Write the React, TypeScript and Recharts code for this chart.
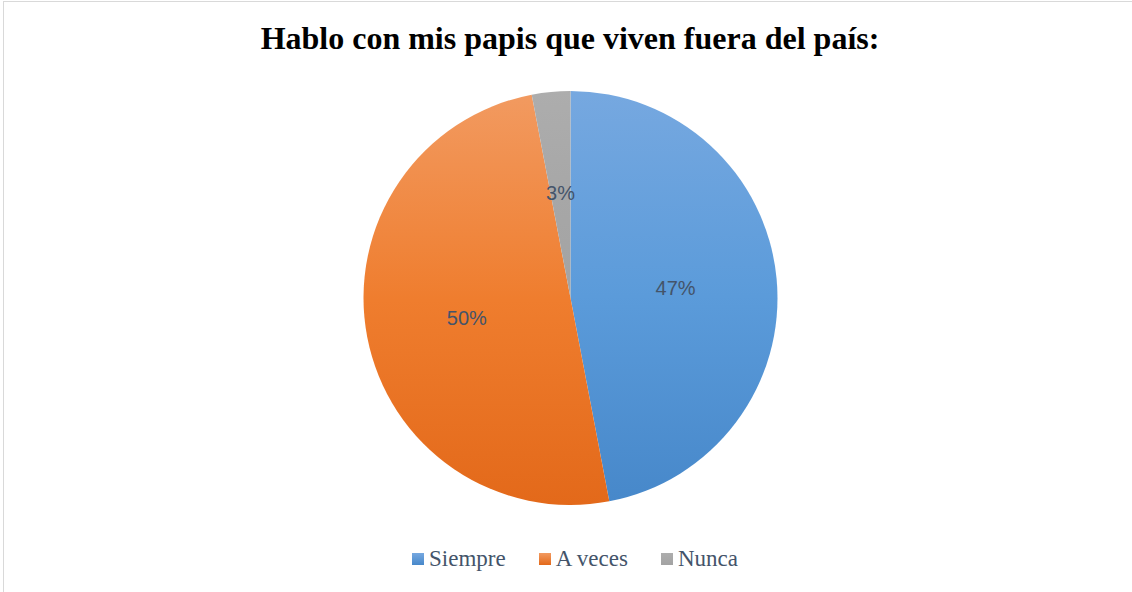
import React from 'react';
import { PieChart, Pie, Cell, Legend } from 'recharts';

const categories = ['Siempre', 'A veces', 'Nunca'];
const values = [47, 50, 3];
const labels = ['47%', '50%', '3%'];

const gradTop = ['#76A8E0', '#F29A60', '#ADADAD'];
const gradMid = ['#5B9BDA', '#EF7D2E', '#A7A7A7'];
const gradBottom = ['#4788CA', '#E3691A', '#A3A3A3'];

const data = categories.map((name, i) => ({ name, value: values[i], label: labels[i] }));

const RAD = Math.PI / 180;
const SERIF = '"Liberation Serif", "Times New Roman", Times, serif';

const renderLabel = (props: any) => {
  const { cx, cy, midAngle, outerRadius, index } = props;
  const r = outerRadius * 0.51;
  const x = cx + r * Math.cos(-midAngle * RAD);
  const y = cy + r * Math.sin(-midAngle * RAD);
  return (
    <text
      x={x}
      y={y}
      fill="#44546A"
      textAnchor="middle"
      dominantBaseline="central"
      style={{ fontFamily: '"Liberation Sans", Arial, sans-serif', fontSize: 20 }}
    >
      {data[index].label}
    </text>
  );
};

const renderLegend = () => (
  <div
    style={{
      display: 'flex',
      justifyContent: 'center',
      alignItems: 'center',
      fontFamily: SERIF,
      fontSize: 23,
      color: '#44546A',
      paddingLeft: 10,
    }}
  >
    {categories.map((c, i) => (
      <div key={c} style={{ display: 'flex', alignItems: 'center', marginRight: i < categories.length - 1 ? 33 : 0 }}>
        <span style={{ width: 12, height: 12, background: `linear-gradient(${gradTop[i]}, ${gradBottom[i]})`, marginRight: 5, display: 'inline-block' }} />
        <span style={{ fontFamily: SERIF }}>{c}</span>
      </div>
    ))}
  </div>
);

export default function App() {
  return (
    <div style={{ position: 'absolute', left: 0, top: 0, width: 1132, height: 592, background: '#fff', overflow: 'hidden' }}>
      <div
        style={{
          position: 'absolute',
          left: 3,
          top: 1,
          width: 1200,
          height: 700,
          borderTop: '1px solid #D9D9D9',
          borderLeft: '1px solid #D9D9D9',
          boxSizing: 'border-box',
        }}
      />
      <div
        style={{
          position: 'absolute',
          left: 0,
          top: 20,
          width: 1140,
          textAlign: 'center',
          fontFamily: SERIF,
          fontWeight: 'bold',
          fontSize: 32,
          color: '#000',
        }}
      >
        Hablo con mis papis que viven fuera del país:
      </div>
      <div style={{ position: 'absolute', left: 0, top: 0 }}>
        <PieChart width={1140} height={592} margin={{ top: 0, right: 0, bottom: 0, left: 0 }}>
          <defs>
            {categories.map((c, i) => (
              <linearGradient key={c} id={`g${i}`} x1="0" y1="0" x2="0" y2="1">
                <stop offset="0%" stopColor={gradTop[i]} />
                <stop offset="50%" stopColor={gradMid[i]} />
                <stop offset="100%" stopColor={gradBottom[i]} />
              </linearGradient>
            ))}
          </defs>
          <Pie
            data={data}
            dataKey="value"
            nameKey="name"
            cx={570.5}
            cy={298}
            outerRadius={207}
            startAngle={90}
            endAngle={-270}
            stroke="none"
            label={renderLabel}
            labelLine={false}
            isAnimationActive={false}
          >
            {data.map((d, i) => (
              <Cell key={d.name} fill={`url(#g${i})`} />
            ))}
          </Pie>
          <Legend content={renderLegend} verticalAlign="bottom" wrapperStyle={{ bottom: 20 }} />
        </PieChart>
      </div>
    </div>
  );
}
